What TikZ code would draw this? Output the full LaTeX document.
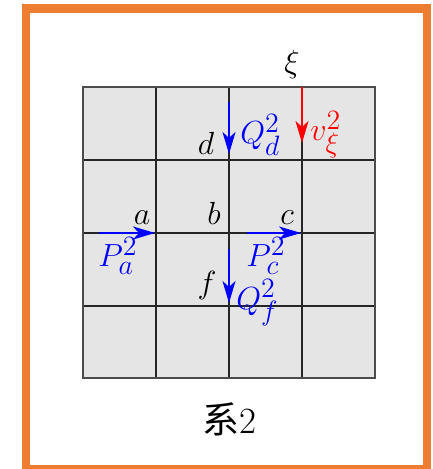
\RequirePackage{fix-cm}
\documentclass[tikz,border=0pt]{standalone}
\usepackage{fontspec}
\newfontfamily\cjk{Noto Sans CJK SC}
\usetikzlibrary{arrows.meta}
\DeclareMathSizes{16}{16}{14}{11}
\definecolor{frameorange}{HTML}{ED7D31}
\begin{document}
\begin{tikzpicture}[x=0.5pt,y=-0.5pt,
  lbl/.style={inner sep=0pt, font=\fontsize{16}{18}\selectfont},
  flowarrow/.style={line width=1.1pt, -{Stealth[length=11pt,width=6.5pt,inset=3pt]}},
  gridline/.style={black!85, line width=0.75pt}]
\useasboundingbox (0,0) rectangle (432,469);
% frame
\draw[frameorange, line width=4.25pt] (26,8.5) rectangle (427,469);
% grid
\fill[gray!20] (83,87) rectangle (375,378);
\foreach \x in {156,229,302} \draw[gridline] (\x,87) -- (\x,378);
\foreach \y in {160,233,306} \draw[gridline] (83,\y) -- (375,\y);
\draw[black!70, line width=0.9pt] (83,87) rectangle (375,378);
% coordinates for arrows
\coordinate (xis) at (302,87);   \coordinate (xie) at (302,143);
\coordinate (qds) at (229,102);  \coordinate (qde) at (229,154);
\coordinate (qfs) at (229,249);  \coordinate (qfe) at (229,303);
\coordinate (pas) at (99,233);   \coordinate (pae) at (155,233);
\coordinate (pcs) at (247,233);  \coordinate (pce) at (301,233);
\draw[flowarrow, red] (xis) -- (xie);
\draw[flowarrow, blue] (qds) -- (qde);
\draw[flowarrow, blue] (qfs) -- (qfe);
\draw[flowarrow, blue] (pas) -- (pae);
\draw[flowarrow, blue] (pcs) -- (pce);
% labels
\node[lbl, anchor=base] (xi) at (292,73) {$\xi$};
\node[lbl, anchor=base west, red] (vxi) at (310,141) {$v_\xi^2$};
\node[lbl, anchor=base west, blue] (Qd) at (240,144) {$Q_d^2$};
\node[lbl, anchor=base] (d) at (206,155) {$d$};
\node[lbl, anchor=base] (a) at (142,225) {$a$};
\node[lbl, anchor=base] (b) at (214,225) {$b$};
\node[lbl, anchor=base] (c) at (287,225) {$c$};
\node[lbl, anchor=base west, blue] (Pa) at (98,267) {$P_a^2$};
\node[lbl, anchor=base west, blue] (Pc) at (246,267) {$P_c^2$};
\node[lbl, anchor=base] (f) at (207,293) {$f$};
\node[lbl, anchor=base west, blue] (Qf) at (236,309) {$Q_f^2$};
\node[inner sep=0pt, anchor=base, font=\fontsize{18.5}{20}\selectfont] (title) at (229,433) {{\cjk 系}2};
\end{tikzpicture}
\end{document}
